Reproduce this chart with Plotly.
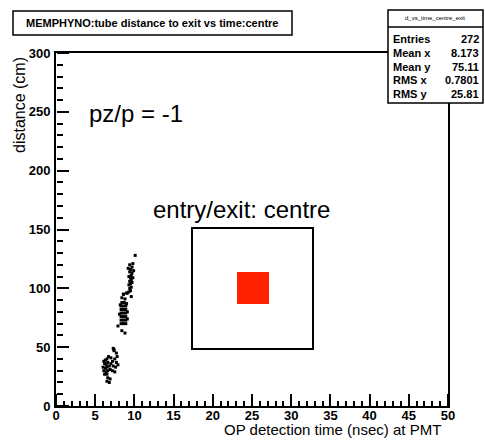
import plotly.graph_objects as go

# ---- data ----
time_ns = [
    # lower cluster
    6.1, 6.3, 6.5, 6.2, 6.4, 6.6, 6.0, 6.3, 6.5, 6.8, 6.1, 6.4, 6.6, 6.9, 6.2, 6.5,
    7.0, 7.2, 7.5, 7.7, 7.3, 7.6, 7.9, 7.2, 7.5, 6.7, 7.0, 6.6, 6.9, 6.5, 6.8,
    7.4, 7.7, 7.8, 7.4, 7.3,
    # middle column
    8.3, 8.6, 8.9, 8.3, 8.6, 8.9, 8.3, 8.6, 8.9, 8.3, 8.6, 8.9, 8.3, 8.6, 8.9,
    8.3, 8.6, 8.9, 8.4, 8.7, 9.0, 9.1, 9.1, 8.2, 8.1,
    8.4, 8.6, 9.1, 9.5, 9.6, 8.8, 7.9, 8.4, 8.8,
    # upper cluster
    8.6, 9.0, 9.3, 9.4, 9.6, 9.3, 9.5, 9.7, 9.4, 9.6, 9.5, 9.8, 9.3, 9.6, 9.7,
    9.4, 9.9, 9.5, 9.2, 9.7, 9.4, 9.8, 10.1,
]
distance_cm = [
    38, 39, 40, 36, 35, 37, 33, 32, 33, 34, 30, 29, 30, 31, 27, 27,
    36, 38, 40, 37, 34, 33, 35, 30, 29, 42, 41, 24, 23, 21, 20,
    47, 45, 42, 48, 49,
    70, 70, 70, 73, 73, 73, 76, 76, 76, 79, 79, 79, 82, 82, 82,
    85, 85, 85, 88, 88, 87, 80, 74, 86, 78,
    92, 95, 96, 98, 93, 91, 68, 64, 62,
    95, 96, 97, 100, 101, 103, 104, 105, 106, 107, 109, 109, 110, 111, 113,
    114, 115, 116, 117, 118, 120, 121, 128,
]

x_ticks = [0, 5, 10, 15, 20, 25, 30, 35, 40, 45, 50]
y_ticks = [0, 50, 100, 150, 200, 250, 300]
x_minor_step = 1
y_minor_step = 10

title_text = "MEMPHYNO:tube distance to exit vs time:centre"
stats_name = "d_vs_time_centre_exit"
stats_labels = ["Entries", "Mean x", "Mean y", "RMS x", "RMS y"]
stats_values = ["272", "8.173", "75.11", "0.7801", "25.81"]

# ---- geometry helpers (pixel -> paper) ----
W, H = 485, 440
L, R, T, B = 56, 448, 53, 406
PW, PH = R - L, B - T


def px(x):
    return (x - L) / PW


def py(y):
    return (B - y) / PH


FONT = "Liberation Sans"
xr = [x_ticks[0], x_ticks[-1]]
yr = [y_ticks[0], y_ticks[-1]]

fig = go.Figure()
fig.add_trace(go.Scatter(
    x=time_ns, y=distance_cm, mode="markers",
    marker=dict(symbol="square", size=3, color="black", line=dict(width=0)),
    showlegend=False, hoverinfo="x+y",
))
# empty traces carrying tick-only overlay axes (ticks pointing into the frame)
fig.add_trace(go.Scatter(x=[None], y=[None], xaxis="x2", yaxis="y2",
                         mode="markers", showlegend=False, hoverinfo="skip"))
fig.add_trace(go.Scatter(x=[None], y=[None], xaxis="x3", yaxis="y3",
                         mode="markers", showlegend=False, hoverinfo="skip"))

labfont = dict(family=FONT, size=13, color="black", weight="bold")


def tick_axis(rng, over, side, vals, step, length):
    d = dict(range=rng, overlaying=over, side=side, anchor="free", position=0,
             showticklabels=False, ticks="outside", ticklen=length, tickwidth=1.5,
             tickcolor="black", showline=False, showgrid=False, zeroline=False)
    if vals is not None:
        d.update(tickmode="array", tickvals=vals)
    else:
        d.update(tickmode="linear", tick0=rng[0], dtick=step)
    return d


fig.update_layout(
    width=W, height=H,
    margin=dict(l=L, r=W - R, t=T, b=H - B, pad=0),
    paper_bgcolor="white", plot_bgcolor="white",
    xaxis=dict(range=xr, tickmode="array", tickvals=x_ticks, ticktext=[str(v) for v in x_ticks],
               showline=True, linecolor="black", linewidth=2, mirror=True,
               ticks="", showgrid=False, zeroline=False, ticklabelstandoff=-4,
               tickfont=labfont),
    yaxis=dict(range=yr, tickmode="array", tickvals=y_ticks, ticktext=[str(v) for v in y_ticks],
               showline=True, linecolor="black", linewidth=2, mirror=True,
               ticks="", showgrid=False, zeroline=False, ticklabelstandoff=1,
               tickfont=labfont),
    xaxis2=tick_axis(xr, "x", "top", x_ticks, None, 12),
    yaxis2=tick_axis(yr, "y", "right", y_ticks, None, 12),
    xaxis3=tick_axis(xr, "x", "top", None, x_minor_step, 5),
    yaxis3=tick_axis(yr, "y", "right", None, y_minor_step, 6),
    font=dict(family=FONT, color="black"),
)

shapes = []
annotations = []

# title box
shapes.append(dict(type="rect", xref="paper", yref="paper",
                   x0=px(13), x1=px(292), y0=py(35), y1=py(11),
                   line=dict(color="black", width=1.5), fillcolor="white", layer="above"))
annotations.append(dict(xref="paper", yref="paper", x=px(152), y=py(23),
                        text=title_text, showarrow=False, xanchor="center", yanchor="middle",
                        font=dict(family=FONT, size=11, color="black", weight="bold")))

# stats box
shapes.append(dict(type="rect", xref="paper", yref="paper",
                   x0=px(388), x1=px(483), y0=py(103), y1=py(10),
                   line=dict(color="black", width=1.5), fillcolor="white", layer="above"))
shapes.append(dict(type="line", xref="paper", yref="paper",
                   x0=px(388), x1=px(483), y0=py(27), y1=py(27),
                   line=dict(color="black", width=1.5), layer="above"))
annotations.append(dict(xref="paper", yref="paper", x=px(435), y=py(18),
                        text=stats_name, showarrow=False, xanchor="center", yanchor="middle",
                        font=dict(family=FONT, size=6, color="black")))
row_y = [39, 53, 67, 80, 94]
for lab, val, yy in zip(stats_labels, stats_values, row_y):
    annotations.append(dict(xref="paper", yref="paper", x=px(391), y=py(yy),
                            text=lab, showarrow=False, xanchor="left", yanchor="middle",
                            font=dict(family=FONT, size=11, color="black", weight="bold")))
    annotations.append(dict(xref="paper", yref="paper", x=px(481), y=py(yy),
                            text=val, showarrow=False, xanchor="right", yanchor="middle",
                            font=dict(family=FONT, size=11, color="black", weight="bold")))

# axis titles
annotations.append(dict(xref="paper", yref="paper", x=px(443), y=py(440),
                        text="OP detection time (nsec) at PMT", showarrow=False,
                        xanchor="right", yanchor="bottom",
                        font=dict(family=FONT, size=15, color="black")))
annotations.append(dict(xref="paper", yref="paper", x=px(19), y=py(55),
                        text="distance (cm)", showarrow=False, textangle=-90,
                        xanchor="center", yanchor="top",
                        font=dict(family=FONT, size=16, color="black")))

# inset labels
annotations.append(dict(xref="paper", yref="paper", x=px(87), y=py(113),
                        text="pz/p = -1", showarrow=False, xanchor="left", yanchor="middle",
                        font=dict(family=FONT, size=24, color="black")))
annotations.append(dict(xref="paper", yref="paper", x=px(151), y=py(209),
                        text="entry/exit: centre", showarrow=False, xanchor="left", yanchor="middle",
                        font=dict(family=FONT, size=24, color="black")))

# inset square and red square
shapes.append(dict(type="rect", xref="paper", yref="paper",
                   x0=px(192), x1=px(313), y0=py(349), y1=py(228),
                   line=dict(color="black", width=2)))
shapes.append(dict(type="rect", xref="paper", yref="paper",
                   x0=px(237), x1=px(269), y0=py(304), y1=py(272),
                   line=dict(width=0), fillcolor="#ff2200"))

fig.update_layout(shapes=shapes, annotations=annotations)
fig.write_html("out.html")
